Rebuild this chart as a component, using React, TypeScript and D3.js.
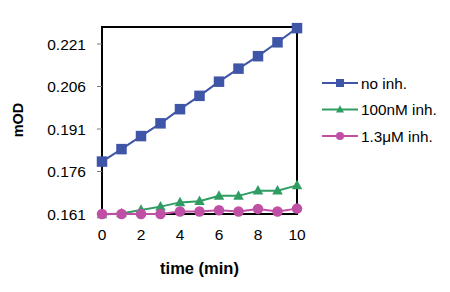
import React from "react";
import * as d3 from "d3";

const times = [0, 1, 2, 3, 4, 5, 6, 7, 8, 9, 10];
const noInh = [0.1795, 0.1839, 0.1885, 0.193, 0.198, 0.2027, 0.2077, 0.2123, 0.2167, 0.2216, 0.2266];
const inh100nM = [0.1608, 0.1612, 0.1624, 0.1636, 0.1651, 0.1655, 0.1674, 0.1674, 0.1692, 0.1692, 0.1711];
const inh1_3uM = [0.161, 0.161, 0.161, 0.161, 0.1619, 0.1619, 0.1623, 0.1619, 0.1628, 0.1619, 0.1629];
const yTicks = [0.161, 0.176, 0.191, 0.206, 0.221];
const xTicks = [0, 2, 4, 6, 8, 10];
const seriesNames = ["no inh.", "100nM inh.", "1.3μM inh."];

const W = 450;
const H = 292;
const plot = { left: 102, top: 27, right: 297, bottom: 214 };
const colors = ["#3f55a8", "#2f9d63", "#c04fa6"];
const font = "Liberation Sans, Arial, sans-serif";

type Shape = "square" | "triangle" | "circle";
const shapes: Shape[] = ["square", "triangle", "circle"];

function Marker({ shape, x, y, color, size }: { shape: Shape; x: number; y: number; color: string; size: number }) {
  if (shape === "square") {
    return <rect x={x - size / 2} y={y - size / 2} width={size} height={size} fill={color} />;
  }
  if (shape === "circle") {
    return <circle cx={x} cy={y} r={size / 2} fill={color} />;
  }
  const h = size * 0.9;
  return (
    <path
      d={`M${x},${y - h * 0.6} L${x + size / 2},${y + h * 0.4} L${x - size / 2},${y + h * 0.4} Z`}
      fill={color}
    />
  );
}

export default function App() {
  const x = d3.scaleLinear().domain([0, 10]).range([plot.left, plot.right]);
  const y = d3.scaleLinear().domain([0.161, 0.227]).range([plot.bottom, plot.top]);
  const line = d3
    .line<number>()
    .x((_, i) => x(times[i]))
    .y((d) => y(d));
  const series = [noInh, inh100nM, inh1_3uM];

  return (
    <svg width={W} height={H} style={{ position: "absolute", left: 0, top: 0 }} fontFamily={font}>
      <rect width={W} height={H} fill="#fff" />
      {/* plot frame */}
      <rect
        x={plot.left}
        y={plot.top}
        width={plot.right - plot.left}
        height={plot.bottom - plot.top}
        fill="none"
        stroke="#000"
        strokeWidth={2}
      />
      {/* y axis ticks and labels */}
      {yTicks.map((t) => (
        <g key={t}>
          <line x1={plot.left - 5} x2={plot.left} y1={y(t)} y2={y(t)} stroke="#777" strokeWidth={1} />
          <text x={86} y={y(t)} dy="0.36em" textAnchor="end" fontSize={15.5} fill="#000">
            {t.toFixed(3)}
          </text>
        </g>
      ))}
      {/* x axis labels */}
      {xTicks.map((t) => (
        <text key={t} x={x(t)} y={240} textAnchor="middle" fontSize={15.5} fill="#000">
          {t}
        </text>
      ))}
      <text x={199.5} y={274} textAnchor="middle" fontSize={16.5} fontWeight="bold">
        time (min)
      </text>
      <text
        transform={`translate(23,120) rotate(-90)`}
        textAnchor="middle"
        fontSize={14.5}
        fontWeight="bold"
      >
        mOD
      </text>
      {/* series */}
      {series.map((s, si) => (
        <g key={si}>
          <path d={line(s) ?? ""} fill="none" stroke={colors[si]} strokeWidth={2} />
          {s.map((v, i) => (
            <Marker key={i} shape={shapes[si]} x={x(times[i])} y={y(v)} color={colors[si]} size={10.5} />
          ))}
        </g>
      ))}
      {/* legend */}
      {seriesNames.map((name, i) => {
        const ly = 83 + i * 26.5;
        return (
          <g key={name}>
            <line x1={322} x2={358} y1={ly} y2={ly} stroke={colors[i]} strokeWidth={2} />
            <Marker shape={shapes[i]} x={340} y={ly} color={colors[i]} size={8} />
            <text x={361} y={ly} dy="0.36em" fontSize={15.3} fill="#000">
              {name}
            </text>
          </g>
        );
      })}
    </svg>
  );
}
